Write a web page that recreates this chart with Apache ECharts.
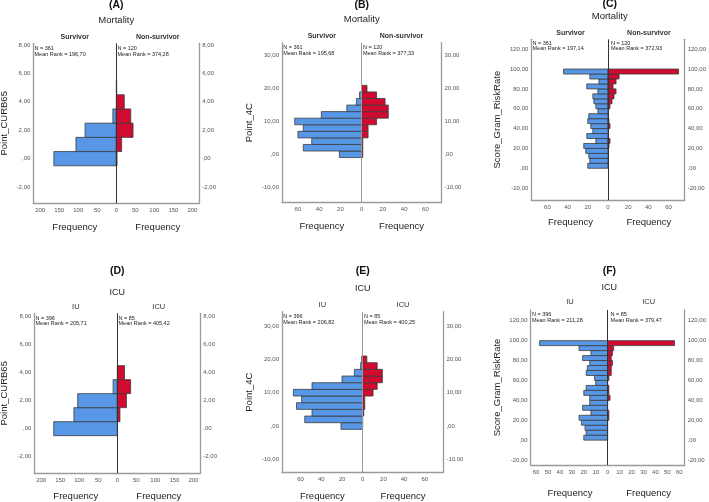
<!DOCTYPE html>
<html>
<head>
<meta charset="utf-8">
<script src="https://cdn.jsdelivr.net/npm/echarts@6/dist/echarts.min.js"></script>
<style>
  html, body { margin: 0; padding: 0; background: #fff; }
  #chart { width: 709px; height: 502px; }
</style>
</head>
<body>
<div id="chart"></div>
<script>
// bins (centres)
var curbBins = [0, 1, 2, 3, 4, 5];
var fourCBins = [0, 2, 4, 6, 8, 10, 12, 14, 16, 18, 20];
var scoreBins = [2.5, 7.5, 12.5, 17.5, 22.5, 27.5, 32.5, 37.5, 42.5, 47.5,
                 52.5, 57.5, 62.5, 67.5, 72.5, 77.5, 82.5, 87.5, 92.5, 97.5];

// frequencies, low bin -> high bin
var curbSurvivor    = [164, 106, 82, 9, 0, 0];
var curbNonSurvivor = [2, 14, 44, 38, 21, 1];
var curbIU          = [167, 114, 104, 11, 0, 0];
var curbICU         = [0, 7, 24, 35, 19, 0];

var fourCSurvivor    = [21, 55, 47, 60, 55, 63, 38, 14, 5, 2, 0];
var fourCNonSurvivor = [1, 1, 1, 6, 6, 14, 25, 25, 22, 14, 5];
var fourCIU          = [21, 56, 49, 64, 59, 67, 49, 20, 8, 2, 1];
var fourCICU         = [0, 0, 1, 2, 2, 10, 14, 19, 19, 14, 4];

var scoreSurvivor    = [20, 18, 19, 22, 24, 12, 21, 15, 17, 20, 19, 10, 12, 14, 15, 10, 21, 9, 18, 44];
var scoreNonSurvivor = [0, 0, 0, 0, 1, 2, 0, 0, 2, 1, 0, 0, 2, 4, 6, 8, 5, 8, 11, 70];
var scoreIU          = [20, 18, 19, 22, 24, 14, 21, 15, 15, 20, 18, 10, 11, 18, 17, 15, 21, 14, 24, 57];
var scoreICU         = [0, 0, 0, 0, 1, 1, 0, 0, 2, 1, 1, 0, 1, 3, 3, 4, 3, 4, 5, 56];

// tick labels
var curbFreqTicks  = [-200, -150, -100, -50, 0, 50, 100, 150, 200];
var wideFreqTicks  = [-60, -40, -20, 0, 20, 40, 60];
var fineFreqTicks  = [-60, -50, -40, -30, -20, -10, 0, 10, 20, 30, 40, 50, 60];
var curbValueTicks = [-2, 0, 2, 4, 6, 8];
var fourCValueTicks = [-10, 0, 10, 20, 30];
var scoreValueTicks = [-20, 0, 20, 40, 60, 80, 100, 120];

// texts
var panelLetters = ['(A)', '(B)', '(C)', '(D)', '(E)', '(F)'];
var panelTitles = ['Mortality', 'Mortality', 'Mortality', 'ICU', 'ICU', 'ICU'];
var variableNames = ['Point_CURB65', 'Point_4C', 'Score_Gram_RiskRate', 'Point_CURB65', 'Point_4C', 'Score_Gram_RiskRate'];
var leftGroups = ['Survivor', 'Survivor', 'Survivor', 'IU', 'IU', 'IU'];
var rightGroups = ['Non-survivor', 'Non-survivor', 'Non-survivor', 'ICU', 'ICU', 'ICU'];
var leftN = [361, 361, 361, 396, 396, 396];
var rightN = [120, 120, 120, 85, 85, 85];
var leftRank = ['196,70', '195,68', '197,14', '205,71', '206,82', '211,28'];
var rightRank = ['374,28', '377,33', '372,93', '405,42', '400,25', '379,47'];

var FONT = "'Liberation Sans', Arial, sans-serif";
var BLUE = '#5797e6';
var RED = '#d10a2f';

var panels = [
  {bins: curbBins, bw: 1, left: curbSurvivor, right: curbNonSurvivor, xt: curbFreqTicks, yt: curbValueTicks,
   gl: 33.3, gt: 43.3, gw: 166, gh: 160, xMax: 218, yMin: -3.14, yMax: 8.12,
   letterY: 5.5, titleY: 20.7, groupY: 37.3, nY: 48.3, freqY: 227.3, nameX: 4.5, mid: '#333', bold: true},
  {bins: fourCBins, bw: 2, left: fourCSurvivor, right: fourCNonSurvivor, xt: wideFreqTicks, yt: fourCValueTicks,
   gl: 282, gt: 42.7, gw: 159.4, gh: 160, xMax: 75, yMin: -14.75, yMax: 34.0,
   letterY: 5, titleY: 19.3, groupY: 36, nY: 47.7, freqY: 226, nameX: 249, mid: '#999', bold: true},
  {bins: scoreBins, bw: 5, left: scoreSurvivor, right: scoreNonSurvivor, xt: wideFreqTicks, yt: scoreValueTicks,
   gl: 531.3, gt: 39.3, gw: 156.8, gh: 160.7, xMax: 76, yMin: -32, yMax: 130,
   letterY: 4.5, titleY: 16.7, groupY: 32.7, nY: 43, freqY: 222.7, nameX: 497, mid: '#333', bold: true},
  {bins: curbBins, bw: 1, left: curbIU, right: curbICU, xt: curbFreqTicks, yt: curbValueTicks,
   gl: 34.3, gt: 313.3, gw: 166, gh: 160, xMax: 218, yMin: -3.19, yMax: 8.24,
   letterY: 270.7, titleY: 292.3, groupY: 307.3, nY: 318, freqY: 496.7, nameX: 4.5, mid: '#333', bold: false},
  {bins: fourCBins, bw: 2, left: fourCIU, right: fourCICU, xt: wideFreqTicks, yt: fourCValueTicks,
   gl: 282, gt: 311.7, gw: 161.4, gh: 161, xMax: 78, yMin: -14.0, yMax: 34.3,
   letterY: 270.7, titleY: 289, groupY: 305, nY: 316.3, freqY: 496.7, nameX: 249.7, mid: '#999', bold: false},
  {bins: scoreBins, bw: 5, left: scoreIU, right: scoreICU, xt: fineFreqTicks, yt: scoreValueTicks,
   gl: 530.7, gt: 310, gw: 157.3, gh: 155, xMax: 64.5, yMin: -25, yMax: 130.8,
   letterY: 270.7, titleY: 287.7, groupY: 302.3, nY: 314.3, freqY: 493, nameX: 497, mid: '#333', bold: false}
];

function fmtValue(v) {
  var s = Math.abs(v).toFixed(2).replace('.', ',');
  if (s.indexOf('0,') === 0) s = s.slice(1);
  return (v < 0 ? '-' : '') + s;
}

function barData(bins, counts, bw, sign) {
  var out = [];
  bins.forEach(function (c, j) {
    if (counts[j] > 0) out.push([sign * counts[j], c - bw / 2, c + bw / 2]);
  });
  return out;
}

function renderBar(params, api) {
  var p0 = api.coord([0, api.value(2)]);
  var p1 = api.coord([api.value(0), api.value(1)]);
  return {
    type: 'rect',
    shape: {x: Math.min(p0[0], p1[0]), y: p0[1], width: Math.abs(p1[0] - p0[0]), height: p1[1] - p0[1]},
    style: api.style()
  };
}

function txt(x, y, text, size, opts) {
  opts = opts || {};
  return {
    type: 'text', x: x, y: y, rotation: opts.rot || 0, silent: true,
    style: {
      text: text, fill: opts.color || '#222',
      font: (opts.bold ? 'bold ' : '') + size + 'px ' + FONT,
      textAlign: opts.align || 'center', textVerticalAlign: 'middle',
      align: opts.align || 'center', verticalAlign: 'middle'
    }
  };
}

var grids = [], xAxes = [], yAxes = [], series = [], graphics = [];
var axisLineStyle = {color: '#9a9a9a', width: 1.3};
var tickFont = {fontSize: 6, color: '#555', fontFamily: FONT};

panels.forEach(function (p, i) {
  grids.push({left: p.gl, top: p.gt, width: p.gw, height: p.gh});
  xAxes.push({
    gridIndex: i, type: 'value', min: -p.xMax, max: p.xMax,
    axisLine: {show: true, onZero: false, lineStyle: axisLineStyle},
    axisTick: {show: false}, splitLine: {show: false},
    axisLabel: Object.assign({customValues: p.xt, margin: 4, formatter: function (v) { return String(Math.abs(v)); }}, tickFont)
  });
  ['left', 'right'].forEach(function (pos) {
    yAxes.push({
      gridIndex: i, type: 'value', position: pos, min: p.yMin, max: p.yMax,
      axisLine: {show: true, onZero: false, lineStyle: axisLineStyle},
      axisTick: {show: false}, splitLine: {show: false},
      axisLabel: Object.assign({customValues: p.yt, margin: 3, formatter: fmtValue}, tickFont)
    });
  });
  series.push({
    type: 'custom', xAxisIndex: i, yAxisIndex: i * 2, renderItem: renderBar,
    itemStyle: {color: BLUE, borderColor: '#3c3c3c', borderWidth: 0.8},
    data: barData(p.bins, p.left, p.bw, -1)
  });
  series.push({
    type: 'custom', xAxisIndex: i, yAxisIndex: i * 2, renderItem: renderBar,
    itemStyle: {color: RED, borderColor: '#3c3c3c', borderWidth: 0.8},
    data: barData(p.bins, p.right, p.bw, 1),
    markLine: {
      silent: true, symbol: ['none', 'none'], label: {show: false},
      lineStyle: {color: p.mid, width: 1, type: 'solid'},
      data: [{xAxis: 0}]
    }
  });

  var cx = p.gl + p.gw / 2;
  var lx = (p.gl + cx) / 2, rx = (cx + p.gl + p.gw) / 2;
  graphics.push(txt(cx, p.letterY, panelLetters[i], 10.5, {bold: true, color: '#111'}));
  graphics.push(txt(cx, p.titleY, panelTitles[i], i < 3 ? 9.5 : 9));
  graphics.push(txt(lx, p.groupY, leftGroups[i], p.bold ? 7 : 7.5, {bold: p.bold, color: '#333'}));
  graphics.push(txt(rx, p.groupY, rightGroups[i], p.bold ? 7 : 7.5, {bold: p.bold, color: '#333'}));
  graphics.push(txt(p.gl + 1.2, p.nY, 'N = ' + leftN[i], 5.5, {align: 'left'}));
  graphics.push(txt(p.gl + 1.2, p.nY + 5.7, 'Mean Rank = ' + leftRank[i], 5.5, {align: 'left'}));
  graphics.push(txt(cx + 1.2, p.nY, 'N = ' + rightN[i], 5.5, {align: 'left'}));
  graphics.push(txt(cx + 1.2, p.nY + 5.7, 'Mean Rank = ' + rightRank[i], 5.5, {align: 'left'}));
  graphics.push(txt(lx, p.freqY, 'Frequency', 9.5));
  graphics.push(txt(rx, p.freqY, 'Frequency', 9.5));
  graphics.push(txt(p.nameX, p.gt + p.gh / 2, variableNames[i], 9.5, {rot: Math.PI / 2}));
});

var chart = echarts.init(document.getElementById('chart'), null, {renderer: 'canvas'});
chart.setOption({
  animation: false,
  backgroundColor: '#fff',
  grid: grids,
  xAxis: xAxes,
  yAxis: yAxes,
  series: series,
  graphic: graphics
});
</script>
</body>
</html>
